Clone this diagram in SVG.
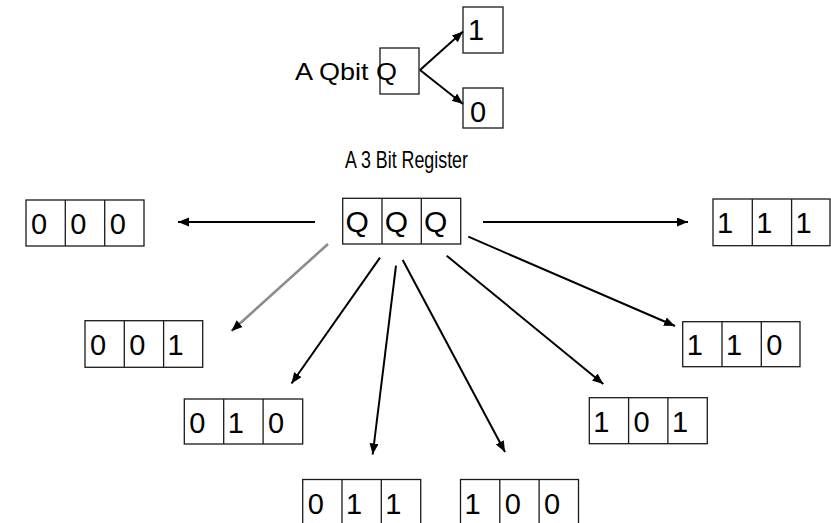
<svg xmlns="http://www.w3.org/2000/svg" width="831" height="523" viewBox="0 0 831 523">
  <style>
    .cell { fill: #ffffff; stroke: #1a1a1a; stroke-width: 1.3; }
    .div { stroke: #1a1a1a; stroke-width: 1.3; }
    .dig { font-family: "Liberation Sans", Arial, sans-serif; font-size: 29px; fill: #000000; }
    .q { font-family: "Liberation Sans", Arial, sans-serif; font-size: 30px; fill: #000000; }
    .lbl { font-family: "Liberation Sans", Arial, sans-serif; font-size: 24px; fill: #000000; }
    .arr { stroke: #000000; stroke-width: 2; fill: none; marker-end: url(#head); }
    .arr-grey { stroke: #8c8c8c; stroke-width: 2.6; fill: none; marker-end: url(#head); }
  </style>
  <defs>
    <marker id="head" markerUnits="userSpaceOnUse" markerWidth="12" markerHeight="10" refX="11" refY="4.5" orient="auto">
      <path d="M0,0 L11,4.5 L0,9 z" fill="#000000"/>
    </marker>
  </defs>

  <rect width="831" height="523" fill="#ffffff"/>

  <!-- single qubit -->
  <g id="qbit">
    <rect x="380" y="48" width="39" height="46" fill="none" stroke="#1a1a1a" stroke-width="1.3"/>
    <text class="lbl" x="295" y="80" textLength="102" lengthAdjust="spacingAndGlyphs">A Qbit Q</text>
  </g>
  <g id="qbit-1">
    <rect class="cell" x="463" y="7" width="40" height="46"/>
    <text class="dig" x="468" y="40">1</text>
  </g>
  <g id="qbit-0">
    <rect class="cell" x="463" y="88" width="40" height="40"/>
    <text class="dig" x="470" y="122">0</text>
  </g>

  <g id="register-label">
    <text class="lbl" x="345" y="168" textLength="123" lengthAdjust="spacingAndGlyphs">A 3 Bit Register</text>
  </g>

  <!-- three-bit register and its eight states -->
  <g id="reg-qqq">
    <rect class="cell" x="342.7" y="198.3" width="118" height="45.7"/>
    <line class="div" x1="382" y1="198.3" x2="382" y2="244"/>
    <line class="div" x1="421.3" y1="198.3" x2="421.3" y2="244"/>
    <text class="q" x="345.5" y="232">Q</text>
    <text class="q" x="384.8" y="232">Q</text>
    <text class="q" x="424.1" y="232">Q</text>
  </g>
  <g id="state-000">
    <rect class="cell" x="26" y="200" width="118" height="46"/>
    <line class="div" x1="65.3" y1="200" x2="65.3" y2="246"/>
    <line class="div" x1="104.7" y1="200" x2="104.7" y2="246"/>
    <text class="dig" x="31" y="234">0</text>
    <text class="dig" x="70.3" y="234">0</text>
    <text class="dig" x="109.7" y="234">0</text>
  </g>
  <g id="state-111">
    <rect class="cell" x="713" y="199" width="117" height="46.7"/>
    <line class="div" x1="752.3" y1="199" x2="752.3" y2="245.7"/>
    <line class="div" x1="791.6" y1="199" x2="791.6" y2="245.7"/>
    <text class="dig" x="717" y="233">1</text>
    <text class="dig" x="756.3" y="233">1</text>
    <text class="dig" x="795.6" y="233">1</text>
  </g>
  <g id="state-001">
    <rect class="cell" x="85" y="320.7" width="117.7" height="46.6"/>
    <line class="div" x1="124.3" y1="320.7" x2="124.3" y2="367.3"/>
    <line class="div" x1="163.6" y1="320.7" x2="163.6" y2="367.3"/>
    <text class="dig" x="90" y="355">0</text>
    <text class="dig" x="129.3" y="355">0</text>
    <text class="dig" x="167.6" y="355">1</text>
  </g>
  <g id="state-110">
    <rect class="cell" x="682.7" y="321.7" width="117.3" height="45"/>
    <line class="div" x1="722" y1="321.7" x2="722" y2="366.7"/>
    <line class="div" x1="761.3" y1="321.7" x2="761.3" y2="366.7"/>
    <text class="dig" x="686.7" y="355">1</text>
    <text class="dig" x="726" y="355">1</text>
    <text class="dig" x="766.3" y="355">0</text>
  </g>
  <g id="state-010">
    <rect class="cell" x="184.3" y="399" width="118.4" height="45"/>
    <line class="div" x1="223.7" y1="399" x2="223.7" y2="444"/>
    <line class="div" x1="263.1" y1="399" x2="263.1" y2="444"/>
    <text class="dig" x="189.3" y="433">0</text>
    <text class="dig" x="227.7" y="433">1</text>
    <text class="dig" x="268.1" y="433">0</text>
  </g>
  <g id="state-101">
    <rect class="cell" x="589.3" y="397.7" width="118" height="46"/>
    <line class="div" x1="628.6" y1="397.7" x2="628.6" y2="443.7"/>
    <line class="div" x1="667.9" y1="397.7" x2="667.9" y2="443.7"/>
    <text class="dig" x="593.3" y="432">1</text>
    <text class="dig" x="633.6" y="432">0</text>
    <text class="dig" x="671.9" y="432">1</text>
  </g>
  <g id="state-011">
    <rect class="cell" x="302.7" y="479.5" width="118" height="46"/>
    <line class="div" x1="342" y1="479.5" x2="342" y2="525.5"/>
    <line class="div" x1="381.3" y1="479.5" x2="381.3" y2="525.5"/>
    <text class="dig" x="307.7" y="513.5">0</text>
    <text class="dig" x="346" y="513.5">1</text>
    <text class="dig" x="385.3" y="513.5">1</text>
  </g>
  <g id="state-100">
    <rect class="cell" x="460.5" y="479.5" width="118" height="46"/>
    <line class="div" x1="499.8" y1="479.5" x2="499.8" y2="525.5"/>
    <line class="div" x1="539.1" y1="479.5" x2="539.1" y2="525.5"/>
    <text class="dig" x="464.5" y="513.5">1</text>
    <text class="dig" x="504.8" y="513.5">0</text>
    <text class="dig" x="544.1" y="513.5">0</text>
  </g>

  <!-- connectors -->
  <g id="connectors">
    <line class="arr" x1="420" y1="70" x2="463" y2="31.5"/>
    <line class="arr" x1="420" y1="70" x2="463" y2="104"/>
    <line class="arr" x1="315" y1="222" x2="178" y2="222"/>
    <line class="arr" x1="483" y1="222" x2="688" y2="222"/>
    <line class="arr-grey" x1="328" y1="244" x2="231.5" y2="331"/>
    <line class="arr" x1="380" y1="257.7" x2="291.5" y2="383.5"/>
    <line class="arr" x1="396" y1="265.7" x2="372.7" y2="454.5"/>
    <line class="arr" x1="402.7" y1="260" x2="505" y2="452"/>
    <line class="arr" x1="446.7" y1="255.7" x2="603.3" y2="384"/>
    <line class="arr" x1="468.3" y1="236.7" x2="675" y2="326"/>
  </g>
</svg>
